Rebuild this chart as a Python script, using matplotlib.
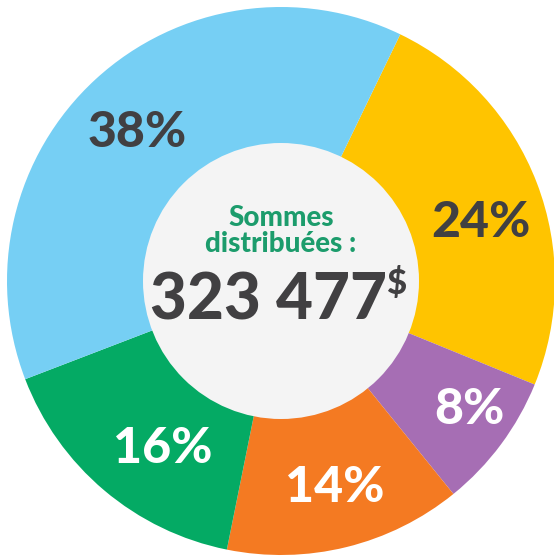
import numpy as np
import matplotlib.pyplot as plt

# Donnees
parts   = [24, 8, 14, 16, 38]
labels  = ['24%', '8%', '14%', '16%', '38%']
colors  = ['#FFC400', '#A66EB4', '#F47A22', '#04AA64', '#76CFF4']
txtcol  = ['#414042', 'white', 'white', 'white', '#414042']
title   = 'Sommes\ndistribuées :'
total   = '323 477'

# placement des etiquettes : distance (fraction du rayon) et decalage angulaire (deg)
ldist   = [0.763, 0.825, 0.767, 0.739, 0.762]
lshift  = [-4.0, 3.0, 1.0, 4.6, 1.0]

fig = plt.figure(figsize=(5.54, 5.57), dpi=100)
ax = fig.add_axes([0, 0, 1, 1])

cx, cy, R = 281, 557 - 281, 274
wedges, _ = ax.pie(parts, colors=colors, startangle=64.2, counterclock=False,
                   center=(cx, cy), radius=R, wedgeprops=dict(linewidth=0))

for w, lab, c, d, s in zip(wedges, labels, txtcol, ldist, lshift):
    ang = np.deg2rad((w.theta1 + w.theta2) / 2.0 + s)
    ax.text(cx + R * d * np.cos(ang), cy + R * d * np.sin(ang) - 3, lab,
            ha='center', va='center', color=c, fontsize=36, fontweight=900, family='Lato')

# cercle central
ax.add_patch(plt.Circle((cx, cy), 138, color='#F4F4F4', linewidth=0))

ax.text(cx, 557 - 231, title, ha='center', va='center', color='#1C9C6C',
        fontsize=20, fontweight=900, family='Lato', linespacing=1.0)
ax.text(269, 557 - 301, total, ha='center', va='center', color='#414042',
        fontsize=46, fontweight=900, family='Lato')
ax.text(396, 557 - 283, '$', ha='center', va='center', color='#414042',
        fontsize=25, fontweight=900, family='Lato')

ax.set_xlim(0, 554)
ax.set_ylim(0, 557)
ax.set_aspect('equal')
ax.axis('off')

fig.savefig('out.png', dpi=100)
